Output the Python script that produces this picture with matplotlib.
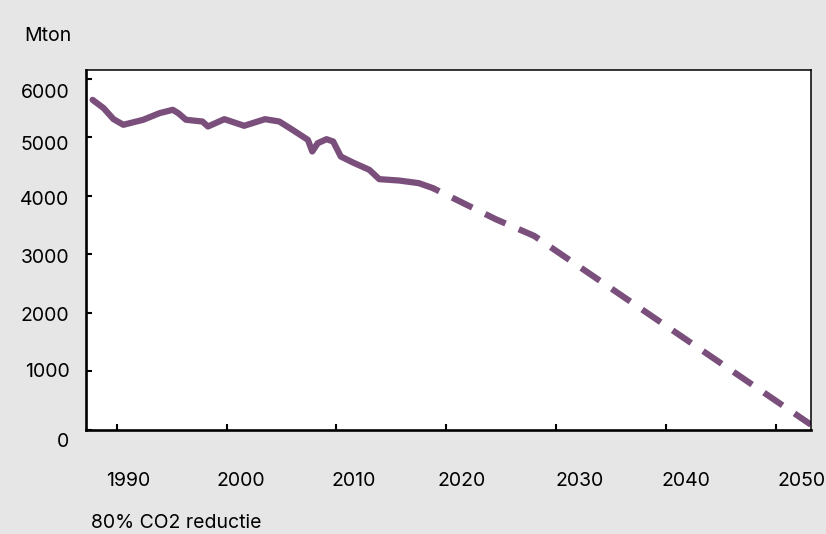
import matplotlib
matplotlib.use("Agg")
import matplotlib.pyplot as plt
import matplotlib.transforms as mtransforms

# historic emissions (solid) and 80% reduction path (dashed), Mton
hist_years = [1987.8, 1988.8, 1989.7, 1990.6, 1992.4, 1993.9, 1995.1, 1995.6,
              1996.3, 1997.8, 1998.3, 1999.8, 2001.6, 2003.5, 2004.8, 2006.0,
              2007.4, 2007.8, 2008.3, 2009.1, 2009.7, 2010.4, 2011.5, 2013.0,
              2013.9, 2015.7, 2017.5, 2018.8]
hist_vals = [5640, 5499, 5311, 5214, 5299, 5413, 5470, 5413,
             5300, 5270, 5185, 5310, 5197, 5310, 5270, 5128,
             4957, 4758, 4900, 4968, 4929, 4672, 4570, 4444,
             4285, 4262, 4217, 4131]
path_years = [2018.8, 2024.5, 2028.0, 2053.2]
path_vals = [4131, 3601, 3316, 90]

xticks = [1990, 2000, 2010, 2020, 2030, 2040, 2050]
yticks = [0, 1000, 2000, 3000, 4000, 5000, 6000]

BG = "#e6e6e6"
PURPLE = "#7b4f7c"

plt.rcParams["font.family"] = ["Inter", "DejaVu Sans"]

fig = plt.figure(figsize=(8.26, 5.34), dpi=100, facecolor=BG)
ax = fig.add_axes([0.1041, 0.1948, 0.8777, 0.6741])
ax.set_facecolor("white")

ax.plot(hist_years, hist_vals, color=PURPLE, lw=4.5,
        solid_capstyle="round", solid_joinstyle="round")
ax.plot(path_years, path_vals, color=PURPLE, lw=4.5,
        linestyle=(2.5, (3.6, 2.3)), dash_capstyle="butt")

ax.set_xlim(1987.2, 2053.2)
ax.set_ylim(0, 6150)
ax.set_xticks(xticks)
ax.set_yticks(yticks)

for side in ["left", "bottom"]:
    ax.spines[side].set_linewidth(1.9)
for side in ["top", "right"]:
    ax.spines[side].set_linewidth(1.1)

ax.tick_params(direction="in", length=4.5, width=1.5, labelsize=14,
               colors="black")
ax.tick_params(axis="x", pad=30)
ax.tick_params(axis="y", pad=12)

# the labels in the original sit a little off their ticks
x_shift = [11, 14, 17, 15, 23, 20, 26]
for lab, s in zip(ax.get_xticklabels(), x_shift):
    lab.set_transform(lab.get_transform() +
                      mtransforms.ScaledTranslation(s / 100, 0, fig.dpi_scale_trans))
y_shift = [10, -1, 1, 2, 2, 6, 12]
for lab, s in zip(ax.get_yticklabels(), y_shift):
    lab.set_transform(lab.get_transform() +
                      mtransforms.ScaledTranslation(0, -s / 100, fig.dpi_scale_trans))

fig.text(24 / 826, 1 - 36 / 534, "Mton", fontsize=14, va="center", ha="left")
fig.text(91 / 826, 1 - 523 / 534, "80% CO2 reductie", fontsize=14,
         va="center", ha="left")

fig.savefig("out.png", dpi=100, facecolor=BG)
